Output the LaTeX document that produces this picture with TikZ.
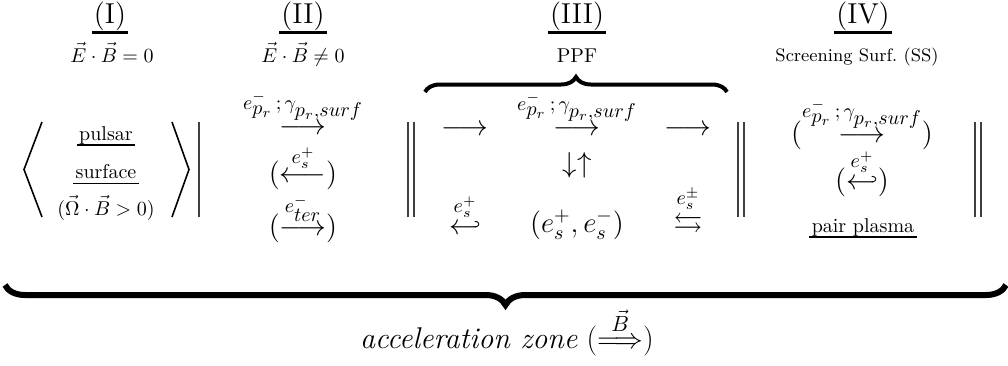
\documentclass[tikz,border=0pt]{standalone}
\usepackage{amsmath,amssymb}
\usetikzlibrary{decorations.pathreplacing}
\tikzset{
  ul/.style={append after command={(\tikzlastnode.south west) edge[line width=#1] (\tikzlastnode.south east)}},
  hdr/.style={font=\Large, inner sep=1pt, anchor=base, ul=1.5pt},
  cond/.style={font=\normalsize, inner sep=0pt, anchor=base},
  word/.style={font=\normalsize, inner sep=1pt, text depth=1.5pt, anchor=base},
  cell/.style={font=\Large, inner sep=0pt, anchor=base},
  bar/.style={draw=black!75, line width=0.6pt},
  bracket/.style={draw, line width=0.8pt},
  topbrace/.style={draw, line width=2pt, decorate, decoration={brace, amplitude=7.5pt}},
  zonebrace/.style={draw, line width=3pt, decorate, decoration={brace, amplitude=10pt}}
}
\newcommand{\prlabel}{e^-_{\scriptstyle p_r}\,;\,\gamma_{\scriptstyle p_r,surf}}

\begin{document}
\begin{tikzpicture}[x=0.5pt,y=-0.5pt]
  \useasboundingbox (0,0) rectangle (1008,365);

  % headers
  \node[hdr] (h1) at (110,23) {(I)};
  \node[hdr] (h2) at (303,23) {(II)};
  \node[hdr] (h3) at (577,23) {(III)};
  \node[hdr] (h4) at (863,23) {(IV)};
  \node[cond] (c1) at (112,62) {$\vec{E}\cdot\vec{B}=0$};
  \node[cond] (c2) at (303,62) {$\vec{E}\cdot\vec{B}\neq0$};
  \node[cond] (c3) at (577,62) {PPF};
  \node[cond, font=\small] (c4) at (857,61) {Screening Surf.\ (SS)};

  % (I) pulsar surface
  \node[word, ul=1pt] (pulsar) at (106,140) {pulsar};
  \node[word, ul=0.6pt] (surf) at (106,178) {surface};
  \node[cond] (omega) at (106,215) {$(\vec{\Omega}\cdot\vec{B}>0)$};
  \draw[bracket] (42,122) -- (24,169.5) -- (42,217);
  \draw[bracket] (172,122) -- (189,169.5) -- (172,217);

  % (II)
  \node[cell] (pr2) at (303,134) {$\overset{\prlabel}{\longrightarrow}$};
  \node[cell] (back2) at (303,182) {$(\overset{e^+_s}{\longleftarrow})$};
  \node[cell] (ter2) at (303,235) {$(\overset{e^-_{\scriptstyle ter}}{\longrightarrow})$};

  % (III) PPF
  \node[cell] (in3) at (465,135) {$\longrightarrow$};
  \node[cell] (pr3) at (577,135) {$\overset{\prlabel}{\longrightarrow}$};
  \node[cell] (out3) at (688,135) {$\longrightarrow$};
  \node[cell, anchor=center] (ud3) at (577,165) {$\downarrow\uparrow$};
  \node[cell] (hook3) at (465,234) {$\overset{e^+_s}{\hookleftarrow}$};
  \node[cell] (pair3) at (577,232) {$(e^+_s,e^-_s)$};
  \node[cell] (lr3) at (688,232) {$\overset{e^\pm_s}{\leftrightarrows}$};

  % (IV) screening surface
  \node[cell] (pr4) at (862,142) {$(\overset{\prlabel}{\longrightarrow})$};
  \node[cell] (hook4) at (862,189) {$(\overset{e^+_s}{\hookleftarrow})$};
  \node[word, ul=1pt] (plasma) at (863,232) {pair plasma};

  % separators
  \foreach \x in {199,408,414,738,744,975,981}
    \draw[bar] (\x,122) -- (\x,217);

  % braces
  \coordinate (ppfL) at (425,92);
  \coordinate (ppfR) at (727,92);
  \draw[topbrace] (ppfL) -- (ppfR);
  \coordinate (zoneL) at (5,285);
  \coordinate (zoneR) at (1006,285);
  \draw[zonebrace] (zoneR) -- (zoneL);
  \node[font=\fontsize{15}{18}\selectfont, anchor=base] (zone) at (507,348) {\textit{acceleration zone} ($\overset{\vec{B}}{\Longrightarrow}$)};
\end{tikzpicture}
\end{document}
